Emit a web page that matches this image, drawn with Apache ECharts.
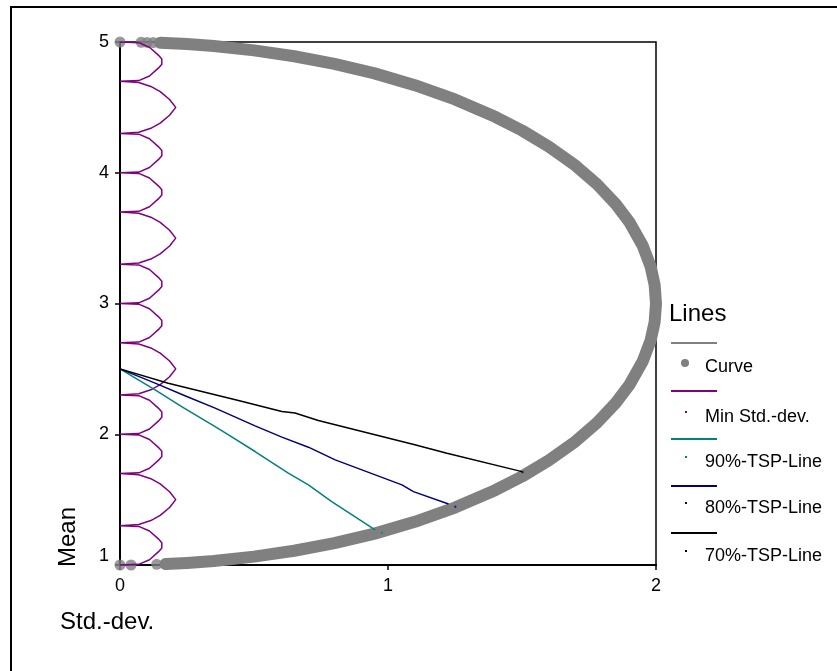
<!DOCTYPE html>
<html>
<head>
<meta charset="utf-8">
<script src="https://cdn.jsdelivr.net/npm/echarts@6/dist/echarts.min.js"></script>
<style>
  html, body { margin: 0; padding: 0; background: #fff; }
  #main { width: 837px; height: 671px; }
</style>
</head>
<body>
<div id="main"></div>
<script>
// tick labels
const xTickLabels = ['0', '1', '2'];
const yTickLabels = ['1', '2', '3', '4', '5'];

// gray frontier band (top end -> right -> bottom end)
const curveLine = [
  [0.15, 4.994], [0.25, 4.984], [0.35, 4.969], [0.5, 4.936], [0.65, 4.891],
  [0.8, 4.833], [0.95, 4.76], [1.1, 4.67], [1.25, 4.561], [1.4, 4.428],
  [1.5, 4.323], [1.6, 4.2], [1.7, 4.054], [1.78, 3.912], [1.85, 3.76],
  [1.9, 3.625], [1.95, 3.444], [1.98, 3.282], [1.995, 3.141], [2.0, 3.0],
  [1.995, 2.859], [1.98, 2.718], [1.95, 2.556], [1.9, 2.375], [1.85, 2.24],
  [1.78, 2.088], [1.7, 1.946], [1.6, 1.8], [1.5, 1.677], [1.4, 1.572],
  [1.25, 1.439], [1.1, 1.33], [0.95, 1.24], [0.8, 1.167], [0.65, 1.109],
  [0.5, 1.064], [0.35, 1.031], [0.25, 1.016], [0.17, 1.007]
];
// loose dots at both ends of the band
const curveDots = [
  [0, 5], [0.079, 4.998], [0.101, 4.997], [0.124, 4.996],
  [0, 1], [0.041, 1.0], [0.137, 1.005]
];

// purple scallops along the mean axis
const minStdDev = [
  [0, 5], [0.07, 4.995], [0.11, 4.96], [0.143, 4.9], [0.156, 4.87], [0.156, 4.83], [0.143, 4.8], [0.11, 4.74], [0.07, 4.705], [0, 4.7],
  [0.07, 4.69], [0.115, 4.66], [0.15, 4.62], [0.185, 4.56], [0.208, 4.5], [0.185, 4.44], [0.15, 4.38], [0.115, 4.34], [0.07, 4.31], [0, 4.3],
  [0.07, 4.295], [0.11, 4.26], [0.143, 4.2], [0.156, 4.17], [0.156, 4.13], [0.143, 4.1], [0.11, 4.04], [0.07, 4.005], [0, 4],
  [0.07, 3.995], [0.11, 3.96], [0.143, 3.9], [0.156, 3.87], [0.156, 3.83], [0.143, 3.8], [0.11, 3.74], [0.07, 3.705], [0, 3.7],
  [0.07, 3.69], [0.115, 3.66], [0.15, 3.62], [0.185, 3.56], [0.208, 3.5], [0.185, 3.44], [0.15, 3.38], [0.115, 3.34], [0.07, 3.31], [0, 3.3],
  [0.07, 3.295], [0.11, 3.26], [0.143, 3.2], [0.156, 3.17], [0.156, 3.13], [0.143, 3.1], [0.11, 3.04], [0.07, 3.005], [0, 3],
  [0.07, 2.995], [0.11, 2.96], [0.143, 2.9], [0.156, 2.87], [0.156, 2.83], [0.143, 2.8], [0.11, 2.74], [0.07, 2.705], [0, 2.7],
  [0.07, 2.69], [0.115, 2.66], [0.15, 2.62], [0.185, 2.56], [0.208, 2.5], [0.185, 2.44], [0.15, 2.38], [0.115, 2.34], [0.07, 2.31], [0, 2.3],
  [0.07, 2.295], [0.11, 2.26], [0.143, 2.2], [0.156, 2.17], [0.156, 2.13], [0.143, 2.1], [0.11, 2.04], [0.07, 2.005], [0, 2],
  [0.07, 1.995], [0.11, 1.96], [0.143, 1.9], [0.156, 1.87], [0.156, 1.83], [0.143, 1.8], [0.11, 1.74], [0.07, 1.705], [0, 1.7],
  [0.07, 1.69], [0.115, 1.66], [0.15, 1.62], [0.185, 1.56], [0.208, 1.5], [0.185, 1.44], [0.15, 1.38], [0.115, 1.34], [0.07, 1.31], [0, 1.3],
  [0.07, 1.295], [0.11, 1.26], [0.143, 1.2], [0.156, 1.17], [0.156, 1.13], [0.143, 1.1], [0.11, 1.04], [0.07, 1.005], [0, 1]
];

// TSP lines from (0, 2.5) to the frontier
const tsp90 = [
  [0, 2.5], [0.131, 2.34], [0.23, 2.212], [0.355, 2.059], [0.411, 1.988],
  [0.504, 1.868], [0.628, 1.702], [0.703, 1.613], [0.79, 1.485], [0.952, 1.268]
];
const tsp80 = [
  [0, 2.5], [0.131, 2.391], [0.249, 2.289], [0.355, 2.2], [0.504, 2.064],
  [0.604, 1.978], [0.703, 1.901], [0.803, 1.804], [1.052, 1.613], [1.095, 1.561], [1.226, 1.467]
];
const tsp70 = [
  [0, 2.5], [0.18, 2.39], [0.442, 2.258], [0.604, 2.174], [0.653, 2.162],
  [0.74, 2.105], [1.1, 1.919], [1.22, 1.855], [1.5, 1.714]
];
const tsp90End = [0.977, 1.247];
const tsp80End = [1.251, 1.446];
const tsp70End = [1.502, 1.71];

const GRAY = '#808080', PURPLE = '#800080', TEAL = '#008080', NAVY = '#000080', BLACK = '#000000';
const FONT = '"Liberation Sans", Arial, sans-serif';

const chart = echarts.init(document.getElementById('main'), null, { renderer: 'canvas' });

function lineSeries(name, data, color, width) {
  return {
    name: name,
    type: 'line',
    data: data,
    symbol: 'none',
    silent: true,
    animation: false,
    lineStyle: { color: color, width: width },
    z: 3
  };
}

function endDot(name, point, color) {
  return {
    name: name,
    type: 'scatter',
    data: [point],
    symbol: 'rect',
    symbolSize: 2,
    silent: true,
    animation: false,
    itemStyle: { color: color },
    z: 5
  };
}

// legend drawn like the original: a line row, then marker + label row
const legendRows = [
  { name: 'Curve', color: GRAY, lineY: 343, textY: 367, dot: 'big' },
  { name: 'Min Std.-dev.', color: PURPLE, lineY: 391, textY: 417 },
  { name: '90%-TSP-Line', color: TEAL, lineY: 439, textY: 462 },
  { name: '80%-TSP-Line', color: NAVY, lineY: 486, textY: 508 },
  { name: '70%-TSP-Line', color: BLACK, lineY: 533, textY: 556 }
];
const legendGraphic = [
  { type: 'text', left: 669, top: 302, style: { text: 'Lines', font: '24px ' + FONT, fill: '#000' } }
];
legendRows.forEach(function (r) {
  legendGraphic.push({ type: 'line', shape: { x1: 671, y1: r.lineY, x2: 717, y2: r.lineY }, style: { stroke: r.color, lineWidth: 2 } });
  if (r.dot === 'big') {
    legendGraphic.push({ type: 'circle', shape: { cx: 685, cy: r.textY - 4, r: 4 }, style: { fill: r.color } });
  } else {
    legendGraphic.push({ type: 'rect', shape: { x: 685, y: r.textY - 6, width: 2, height: 2 }, style: { fill: r.color } });
  }
  legendGraphic.push({
    type: 'text', x: 705, y: r.textY,
    style: { text: r.name, font: '18px ' + FONT, fill: '#000', textVerticalAlign: 'middle', verticalAlign: 'middle' }
  });
});

const option = {
  backgroundColor: '#fff',
  animation: false,
  grid: {
    left: 120, right: 181, top: 42, bottom: 106,
    show: true, borderColor: '#000', borderWidth: 1.5, backgroundColor: 'transparent'
  },
  xAxis: {
    type: 'value',
    min: 0, max: 2, interval: 1,
    splitLine: { show: false },
    axisLine: { lineStyle: { color: '#000', width: 2 } },
    axisTick: { show: true, length: 5, lineStyle: { color: '#000', width: 1.5 } },
    axisLabel: {
      color: '#000', fontSize: 18, fontFamily: FONT, margin: 12,
      formatter: function (v) { return xTickLabels[Math.round(v)]; }
    }
  },
  yAxis: {
    type: 'value',
    min: 1, max: 5, interval: 1,
    splitLine: { show: false },
    axisLine: { lineStyle: { color: '#000', width: 2 } },
    axisTick: { show: true, length: 5, lineStyle: { color: '#000', width: 1.5 } },
    axisLabel: {
      color: '#000', fontSize: 18, fontFamily: FONT, margin: 11,
      formatter: function (v) {
        const t = yTickLabels[Math.round(v) - 1];
        return v === 1 ? '{lo|' + t + '}' : t;
      },
      rich: { lo: { fontSize: 18, fontFamily: FONT, color: '#000', padding: [0, 0, 18, 0] } }
    }
  },
  graphic: [
    // outer chart frame (cut by the picture edge on the right and bottom)
    { type: 'polyline', shape: { points: [[11, 671], [11, 7], [837, 7]] }, style: { stroke: '#000', lineWidth: 2, fill: null } },
    { type: 'text', left: 60, top: 610, style: { text: 'Std.-dev.', font: '24px ' + FONT, fill: '#000' } },
    {
      type: 'text', x: 68, y: 537, rotation: Math.PI / 2,
      style: { text: 'Mean', font: '24px ' + FONT, fill: '#000', align: 'center', verticalAlign: 'middle' }
    }
  ].concat(legendGraphic),
  series: [
    {
      name: 'Curve',
      type: 'line',
      data: curveLine,
      symbol: 'none',
      silent: true,
      lineStyle: { color: GRAY, width: 12, cap: 'round', join: 'round' },
      z: 2
    },
    {
      name: 'Curve',
      type: 'scatter',
      data: curveDots,
      symbol: 'circle',
      symbolSize: 11,
      silent: true,
      itemStyle: { color: GRAY },
      z: 2
    },
    lineSeries('Min Std.-dev.', minStdDev, PURPLE, 1.5),
    lineSeries('90%-TSP-Line', tsp90, TEAL, 1.5),
    lineSeries('80%-TSP-Line', tsp80, NAVY, 1.5),
    lineSeries('70%-TSP-Line', tsp70, BLACK, 1.5),
    endDot('90%-TSP-Line', tsp90End, TEAL),
    endDot('80%-TSP-Line', tsp80End, NAVY),
    endDot('70%-TSP-Line', tsp70End, BLACK)
  ]
};

chart.setOption(option);
</script>
</body>
</html>
